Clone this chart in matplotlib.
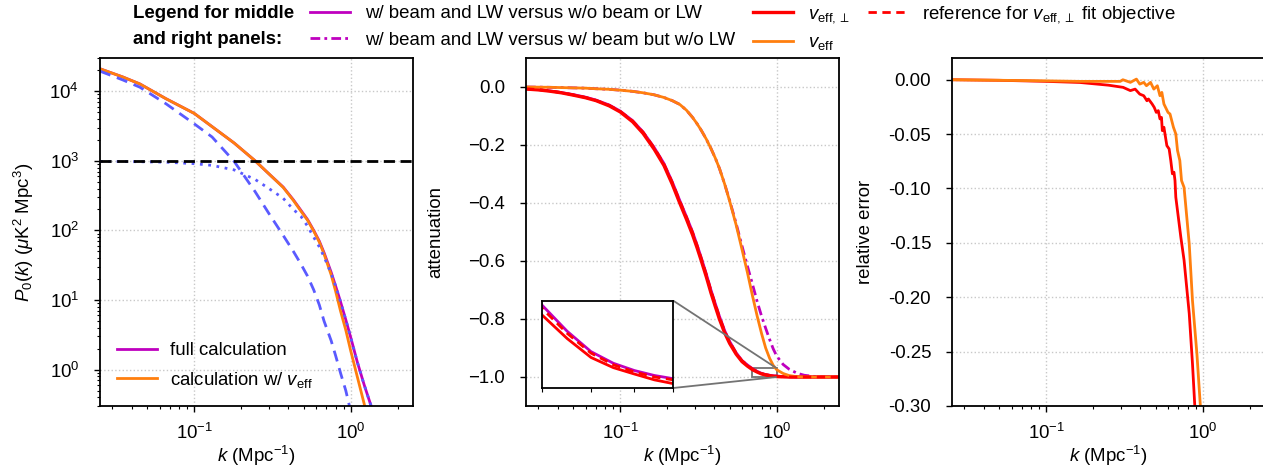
import matplotlib
matplotlib.use("Agg")
import matplotlib.pyplot as plt
from mpl_toolkits.axes_grid1.inset_locator import mark_inset

plt.rcParams['font.family'] = ['Liberation Sans', 'DejaVu Sans']
plt.rcParams['mathtext.fontset'] = 'custom'
plt.rcParams['mathtext.rm'] = 'Liberation Sans'
plt.rcParams['mathtext.it'] = 'Liberation Sans:italic'
plt.rcParams['mathtext.bf'] = 'Liberation Sans:bold'
FS = 13.4
plt.rcParams['font.size'] = FS

# ---------------- data ----------------
# left panel: power spectra
k_p = [0.025, 0.035, 0.045, 0.066, 0.1, 0.13, 0.18, 0.245, 0.3, 0.37, 0.43, 0.48,
       0.53, 0.58, 0.63, 0.675, 0.75, 0.8, 0.86, 0.93, 1.0, 1.1, 1.22, 1.35, 1.5]
P_full = [2.1e4, 1.6e4, 1.27e4, 7.8e3, 4.8e3, 3.1e3, 1.8e3, 1.0e3, 650, 420, 275, 195,
          143, 100, 70, 48, 25, 16, 9.5, 5.2, 2.9, 1.3, 0.6, 0.3, 0.12]
P_veff = [2.1e4, 1.6e4, 1.27e4, 7.8e3, 4.8e3, 3.1e3, 1.8e3, 1.0e3, 650, 415, 270, 190,
          140, 98, 68, 46, 23, 13.5, 7.0, 3.7, 1.86, 0.8, 0.32, 0.12, 0.05]
P_signal = [1.94e4, 1.45e4, 1.14e4, 6.6e3, 3.4e3, 2.2e3, 980, 360, 175, 85, 50, 33,
            22, 14, 8.5, 5.0, 2.6, 1.6, 0.9, 0.5, 0.25, 0.1, 0.04, 0.02, 0.01]
P_noise = [980, 975, 970, 955, 910, 860, 740, 540, 400, 290, 200, 160,
           115, 80, 58, 42, 24, 16, 9.5, 5.2, 2.9, 1.3, 0.6, 0.3, 0.12]
P_level = 1e3

# middle panel: attenuation
k_att = [0.025, 0.03, 0.035, 0.042, 0.05, 0.06, 0.07, 0.085, 0.1, 0.12, 0.14, 0.165,
         0.19, 0.215, 0.24, 0.265, 0.29, 0.31, 0.33, 0.355, 0.38, 0.405, 0.43, 0.465,
         0.5, 0.55, 0.6, 0.65, 0.7, 0.75, 0.8, 0.85, 0.9, 0.95, 1.0, 1.1, 1.2, 1.35,
         1.5, 1.8, 2.5]
att_full = [-0.006, -0.009, -0.013, -0.019, -0.026, -0.035, -0.045, -0.062, -0.083,
            -0.116, -0.155, -0.209, -0.263, -0.327, -0.391, -0.447, -0.500, -0.545,
            -0.590, -0.645, -0.700, -0.747, -0.790, -0.840, -0.877, -0.916, -0.943,
            -0.9585, -0.9714, -0.9805, -0.9875, -0.9915, -0.9940, -0.9957, -0.9968,
            -0.9985, -0.9995, -1.0, -1.0, -1.0, -1.0]
att_beam = [0.0, -0.0005, -0.001, -0.002, -0.003, -0.004, -0.006, -0.008, -0.011,
            -0.015, -0.020, -0.027, -0.036, -0.047, -0.060, -0.080, -0.105, -0.127,
            -0.150, -0.180, -0.212, -0.245, -0.280, -0.335, -0.391, -0.470, -0.548,
            -0.618, -0.680, -0.740, -0.790, -0.832, -0.870, -0.903, -0.928, -0.957,
            -0.973, -0.987, -0.994, -0.999, -1.0]
att_veff_perp = [-0.007, -0.010, -0.014, -0.020, -0.028, -0.037, -0.047, -0.065,
                 -0.086, -0.120, -0.160, -0.215, -0.270, -0.335, -0.400, -0.456,
                 -0.510, -0.555, -0.600, -0.655, -0.710, -0.757, -0.800, -0.848,
                 -0.884, -0.921, -0.947, -0.9625, -0.9748, -0.9830, -0.9895, -0.9930,
                 -0.9952, -0.9972, -0.9985, -0.9995, -1.0, -1.0, -1.0, -1.0, -1.0]
att_ref = [-0.006, -0.009, -0.013, -0.019, -0.027, -0.036, -0.046, -0.063, -0.084,
           -0.117, -0.156, -0.210, -0.265, -0.329, -0.393, -0.449, -0.502, -0.547,
           -0.592, -0.647, -0.702, -0.749, -0.792, -0.842, -0.879, -0.917, -0.944,
           -0.9595, -0.9725, -0.9812, -0.9880, -0.9920, -0.9945, -0.9962, -0.9972,
           -0.9988, -0.9996, -1.0, -1.0, -1.0, -1.0]
att_veff = [0.0, -0.0005, -0.001, -0.002, -0.003, -0.004, -0.006, -0.008, -0.011,
            -0.015, -0.020, -0.027, -0.036, -0.047, -0.060, -0.080, -0.105, -0.127,
            -0.150, -0.180, -0.212, -0.245, -0.280, -0.335, -0.393, -0.475, -0.560,
            -0.640, -0.720, -0.790, -0.850, -0.900, -0.935, -0.960, -0.975, -0.988,
            -0.995, -0.999, -1.0, -1.0, -1.0]

# right panel: relative error
k_err_perp = [0.025, 0.05, 0.1, 0.164, 0.25, 0.31, 0.345, 0.37, 0.396, 0.42, 0.44,
              0.45, 0.475, 0.49, 0.505, 0.52, 0.533, 0.545, 0.552, 0.565, 0.59, 0.61,
              0.625, 0.64, 0.655, 0.665, 0.673, 0.725, 0.76, 0.82, 0.86, 0.89, 0.92]
err_perp = [0.0, -0.0005, -0.0015, -0.0025, -0.005, -0.007, -0.010, -0.0086, -0.0132,
            -0.0147, -0.0193, -0.0177, -0.0223, -0.0254, -0.030, -0.0284, -0.036,
            -0.0346, -0.0468, -0.0437, -0.0606, -0.0636, -0.0743, -0.0865, -0.085,
            -0.0927, -0.108, -0.145, -0.166, -0.215, -0.261, -0.30, -0.36]
k_err_eff = [0.025, 0.1, 0.164, 0.25, 0.297, 0.309, 0.345, 0.377, 0.396, 0.42, 0.437,
             0.464, 0.487, 0.513, 0.533, 0.548, 0.565, 0.60, 0.618, 0.65, 0.673, 0.69,
             0.714, 0.732, 0.76, 0.82, 0.86, 0.918, 0.966, 1.0]
err_eff = [0.0, -0.001, -0.0015, -0.0015, -0.0015, 0.0, -0.0024, 0.0006, -0.004,
           -0.0024, -0.0055, -0.0024, -0.0086, -0.0055, -0.0147, -0.0116, -0.0223,
           -0.030, -0.0315, -0.0437, -0.0498, -0.065, -0.0743, -0.0927, -0.099,
           -0.151, -0.203, -0.252, -0.30, -0.34]

# ---------------- style ----------------
MAG = '#bf00bf'
RED = '#ff0000'
ORA = '#ff7f0e'
BLU = '#5a5aff'
LW = 2.0

fig = plt.figure(figsize=(12.63, 4.69), dpi=100)
W, H = 1263.0, 469.0

def axes_at(x0, x1, y0, y1):
    return fig.add_axes([x0 / W, 1 - y1 / H, (x1 - x0) / W, (y1 - y0) / H])

ax1 = axes_at(100, 413, 58, 406)
ax2 = axes_at(526, 839, 58, 406)
ax3 = axes_at(952, 1265, 58, 406)

for ax in (ax1, ax2, ax3):
    ax.set_xscale('log')
    ax.set_xlim(0.025, 2.5)
    ax.grid(True, which='major', ls=':', color='#c8c8c8', lw=1.0)
    ax.set_axisbelow(True)
    for s in ax.spines.values():
        s.set_linewidth(1.3)
    ax.tick_params(which='major', direction='out', length=4, width=1.0, labelsize=FS)
    ax.tick_params(which='minor', direction='out', length=2.5, width=0.8)
    ax.tick_params(axis='x', which='major', pad=8.5)
    ax.tick_params(axis='y', which='major', pad=11)
    ax.set_xlabel(r'$k$ (Mpc$^{-1}$)', fontsize=FS, labelpad=0.5)

# left panel
ax1.set_yscale('log')
ax1.plot(k_p, P_full, color=MAG, lw=LW, label='full calculation')
ax1.plot(k_p, P_veff, color=ORA, lw=LW, label=r'calculation w/ $v_{\rm eff}$')
ax1.plot(k_p, P_signal, color=BLU, lw=LW, ls=(0, (4, 2.5)))
ax1.plot(k_p, P_noise, color=BLU, lw=LW, ls=(0, (1, 2)))
ax1.axhline(P_level, color='black', lw=2.0, ls=(0, (4, 2)))
ax1.set_ylim(0.3, 3e4)
ax1.set_ylabel(r'$P_0(k)$ ($\mu$K$^2$ Mpc$^3$)', fontsize=FS)
ax1.yaxis.set_label_coords(-0.205, 0.5)
ax1.legend(loc='lower left', frameon=False, fontsize=FS, handlelength=2.15,
           handletextpad=0.7, bbox_to_anchor=(0.02, 0.015), borderaxespad=0.2,
           labelspacing=0.55)

# middle panel
l_full, = ax2.plot(k_att, att_full, color=MAG, lw=LW,
                   label='w/ beam and LW versus w/o beam or LW')
l_beam, = ax2.plot(k_att, att_beam, color=MAG, lw=LW, ls=(0, (3.5, 1.5, 1, 1.5)),
                   label='w/ beam and LW versus w/ beam but w/o LW')
l_perp, = ax2.plot(k_att, att_veff_perp, color=RED, lw=LW + 0.4,
                   label=r'$v_{\rm eff,\perp}$')
l_veff, = ax2.plot(k_att, att_veff, color=ORA, lw=LW, label=r'$v_{\rm eff}$')
l_ref, = ax2.plot(k_att, att_ref, color=RED, lw=LW, ls=(0, (3, 2)),
                  label=r'reference for $v_{\rm eff,\perp}$ fit objective')
ax2.set_ylim(-1.1, 0.1)
ax2.set_yticks([0.0, -0.2, -0.4, -0.6, -0.8, -1.0])
ax2.set_ylabel('attenuation', fontsize=FS)
ax2.yaxis.set_label_coords(-0.26, 0.5)

axins = axes_at(541.7, 673.3, 300.7, 388)
axins.set_xscale('log')
axins.plot(k_att, att_full, color=MAG, lw=LW)
axins.plot(k_att, att_veff_perp, color=RED, lw=LW)
axins.plot(k_att, att_ref, color=RED, lw=LW, ls=(0, (3, 2)))
axins.set_xlim(0.7, 1.0)
axins.set_ylim(-1.0, -0.97)
axins.set_yticks([])
axins.xaxis.set_major_formatter(plt.NullFormatter())
axins.xaxis.set_minor_formatter(plt.NullFormatter())
axins.tick_params(which='both', direction='out', length=3, width=0.8)
for s in axins.spines.values():
    s.set_linewidth(1.3)
mark_inset(ax2, axins, loc1=1, loc2=4, fc='none', ec='0.45', lw=1.3)

# right panel
ax3.plot(k_err_perp, err_perp, color=RED, lw=LW)
ax3.plot(k_err_eff, err_eff, color=ORA, lw=LW)
ax3.set_ylim(-0.30, 0.02)
ax3.set_yticks([0.0, -0.05, -0.10, -0.15, -0.20, -0.25, -0.30])
ax3.yaxis.set_major_formatter(matplotlib.ticker.FormatStrFormatter('%.2f'))
ax3.set_ylabel('relative error', fontsize=FS)
ax3.yaxis.set_label_coords(-0.25, 0.5)

# top legend
fig.text(132.7 / W, 1 - 26.5 / H, 'Legend for middle\nand right panels:', fontsize=FS,
         fontweight='bold', ha='left', va='center', linespacing=1.75)
fig.legend(handles=[l_full, l_beam, l_perp, l_veff, l_ref], ncol=3, frameon=False,
           loc='upper left', bbox_to_anchor=(310 / W, 1 - 4 / H), fontsize=FS,
           handlelength=2.15, columnspacing=0.95, handletextpad=0.8, labelspacing=0.5,
           borderaxespad=0.0, borderpad=0.0)

fig.savefig('out.png', dpi=100)
